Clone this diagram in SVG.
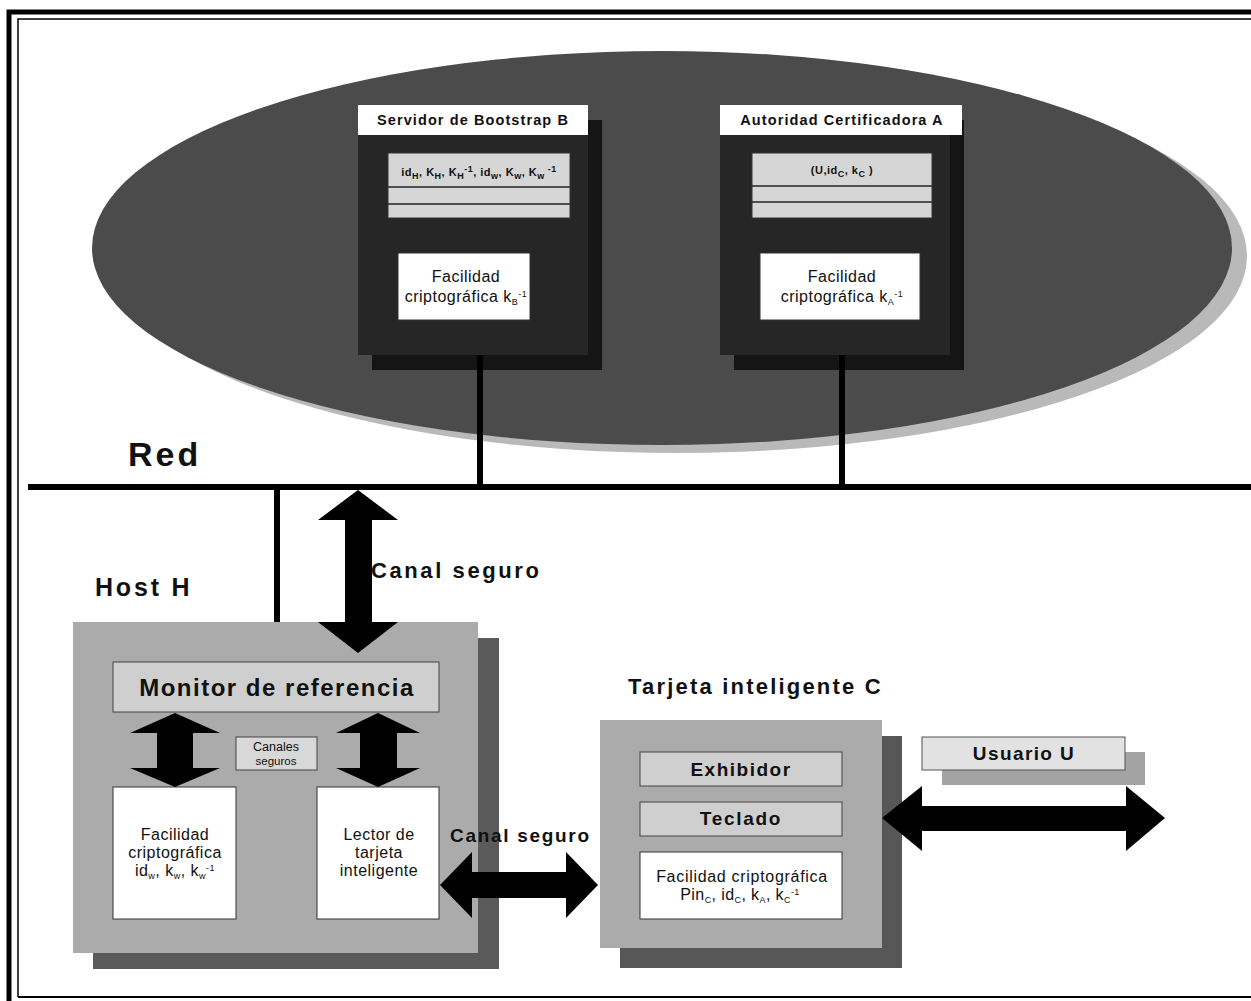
<svg xmlns="http://www.w3.org/2000/svg" width="1251" height="1001" viewBox="0 0 1251 1001">
  <style>
    text { font-family: "Liberation Sans", Arial, sans-serif; fill: #111; }
    .b { font-weight: bold; }
    .title { font-size: 14.5px; font-weight: bold; letter-spacing: 1.1px; text-anchor: middle; }
    .keys { font-size: 11px; font-weight: bold; text-anchor: middle; letter-spacing: 0.5px; }
    .fac { font-size: 16px; text-anchor: middle; letter-spacing: 0.5px; }
    .sub { font-size: 9px; }
    .lbl { font-weight: bold; }
    .panel { fill: #d6d6d6; stroke: #333; stroke-width: 1; }
    .white { fill: #ffffff; stroke: #333; stroke-width: 1; }
    .bar { fill: #cfcfcf; stroke: #444; stroke-width: 1; }
    .wire { stroke: #000; stroke-width: 6; }
    .dbl { fill: #000; }
  </style>

  <!-- page frame -->
  <g id="frame" fill="none" stroke="#000">
    <path d="M9 1001 V12 H1251" stroke-width="5"/>
    <path d="M18 997 V19 H1251" stroke-width="1.5"/>
    <path d="M18 997 H1251" stroke-width="2"/>
  </g>

  <!-- network cloud -->
  <g id="network">
    <ellipse cx="677" cy="256" rx="570" ry="197" fill="#b9b9b9"/>
    <ellipse cx="662" cy="248" rx="570" ry="197" fill="#4b4b4b"/>
    <text x="128" y="466" class="b" font-size="34" letter-spacing="3">Red</text>
  </g>

  <!-- bootstrap server -->
  <g id="server-b">
    <rect x="372" y="120" width="230" height="250" fill="#151515"/>
    <rect x="358" y="105" width="230" height="250" fill="#262626"/>
    <rect x="358" y="105" width="230" height="30" fill="#fff"/>
    <text x="473" y="125" class="title">Servidor de Bootstrap B</text>
    <rect x="388" y="153" width="182" height="65" class="panel"/>
    <line x1="388" y1="187" x2="570" y2="187" stroke="#222" stroke-width="1.5"/>
    <line x1="388" y1="204" x2="570" y2="204" stroke="#222" stroke-width="1.5"/>
    <text x="479" y="176" class="keys">id<tspan class="sub" dy="3">H</tspan><tspan dy="-3">, K</tspan><tspan class="sub" dy="3">H</tspan><tspan dy="-3">, K</tspan><tspan class="sub" dy="3">H</tspan><tspan class="sub" dy="-7">-1</tspan><tspan dy="4">, id</tspan><tspan class="sub" dy="3">w</tspan><tspan dy="-3">, K</tspan><tspan class="sub" dy="3">w</tspan><tspan dy="-3">, K</tspan><tspan class="sub" dy="3">w</tspan><tspan class="sub" dy="-7"> -1</tspan></text>
    <rect x="398" y="253" width="132" height="67" class="white"/>
    <text x="466" y="282" class="fac">Facilidad</text>
    <text x="466" y="302" class="fac">criptográfica k<tspan class="sub" dy="3">B</tspan><tspan class="sub" dy="-8">-1</tspan></text>
  </g>

  <!-- certification authority -->
  <g id="authority-a">
    <rect x="734" y="120" width="230" height="250" fill="#151515"/>
    <rect x="720" y="105" width="230" height="250" fill="#262626"/>
    <rect x="720" y="105" width="242" height="30" fill="#fff"/>
    <text x="842" y="125" class="title">Autoridad Certificadora A</text>
    <rect x="752" y="153" width="180" height="65" class="panel"/>
    <line x1="752" y1="186" x2="932" y2="186" stroke="#222" stroke-width="1.5"/>
    <line x1="752" y1="202" x2="932" y2="202" stroke="#222" stroke-width="1.5"/>
    <text x="842" y="174" class="keys">(U,id<tspan class="sub" dy="3">C</tspan><tspan dy="-3">, k</tspan><tspan class="sub" dy="3">C</tspan><tspan dy="-3"> )</tspan></text>
    <rect x="760" y="253" width="160" height="67" class="white"/>
    <text x="842" y="282" class="fac">Facilidad</text>
    <text x="842" y="302" class="fac">criptográfica k<tspan class="sub" dy="3">A</tspan><tspan class="sub" dy="-8">-1</tspan></text>
  </g>

  <!-- host -->
  <g id="host-h">
    <text x="95" y="596" class="lbl" font-size="25" letter-spacing="2.8">Host H</text>
    <rect x="93" y="638" width="406" height="331" fill="#5a5a5a"/>
    <rect x="73" y="622" width="405" height="331" fill="#ababab"/>
  </g>

  <g id="monitor">
    <rect x="113" y="662" width="326" height="50" class="bar"/>
    <text x="277" y="696" class="lbl" font-size="24" text-anchor="middle" letter-spacing="1.5">Monitor de referencia</text>
  </g>

  <g id="canales-seguros">
    <rect x="236" y="737" width="81" height="33" fill="#d8d8d8" stroke="#444" stroke-width="1"/>
    <text x="276" y="751" font-size="12.5" text-anchor="middle">Canales</text>
    <text x="276" y="765" font-size="11.5" text-anchor="middle">seguros</text>
  </g>

  <g id="crypto-w">
    <rect x="113" y="787" width="123" height="132" class="white"/>
    <text x="175" y="840" class="fac">Facilidad</text>
    <text x="175" y="858" class="fac">criptográfica</text>
    <text x="175" y="876" class="fac">id<tspan class="sub" dy="3">w</tspan><tspan dy="-3">, k</tspan><tspan class="sub" dy="3">w</tspan><tspan dy="-3">, k</tspan><tspan class="sub" dy="3">w</tspan><tspan class="sub" dy="-8">-1</tspan></text>
  </g>

  <g id="reader">
    <rect x="317" y="787" width="122" height="132" class="white"/>
    <text x="379" y="840" class="fac">Lector de</text>
    <text x="379" y="858" class="fac">tarjeta</text>
    <text x="379" y="876" class="fac">inteligente</text>
  </g>

  <!-- smart card -->
  <g id="card-c">
    <text x="628" y="694" class="lbl" font-size="22" letter-spacing="2.2">Tarjeta inteligente C</text>
    <rect x="620" y="736" width="282" height="232" fill="#575757"/>
    <rect x="600" y="720" width="282" height="228" fill="#ababab"/>
  </g>

  <g id="display">
    <rect x="640" y="752" width="202" height="34" class="bar"/>
    <text x="741" y="776" class="lbl" font-size="19" text-anchor="middle" letter-spacing="1.5">Exhibidor</text>
  </g>

  <g id="keypad">
    <rect x="640" y="802" width="202" height="34" class="bar"/>
    <text x="741" y="825" class="lbl" font-size="19" text-anchor="middle" letter-spacing="1.7">Teclado</text>
  </g>

  <g id="crypto-c">
    <rect x="640" y="852" width="202" height="67" class="white"/>
    <text x="742" y="882" font-size="16" text-anchor="middle" letter-spacing="0.7">Facilidad criptográfica</text>
    <text x="740" y="900" font-size="16" text-anchor="middle" letter-spacing="0.4">Pin<tspan class="sub" dy="3">C</tspan><tspan dy="-3">, id</tspan><tspan class="sub" dy="3">C</tspan><tspan dy="-3">, k</tspan><tspan class="sub" dy="3">A</tspan><tspan dy="-3">, k</tspan><tspan class="sub" dy="3">C</tspan><tspan class="sub" dy="-8">-1</tspan></text>
  </g>

  <!-- user -->
  <g id="user-u">
    <rect x="942" y="752" width="203" height="33" fill="#a3a3a3"/>
    <rect x="922" y="737" width="203" height="33" fill="#e2e2e2" stroke="#555" stroke-width="1"/>
    <text x="1024" y="760" class="lbl" font-size="19" text-anchor="middle" letter-spacing="1.4">Usuario U</text>
  </g>

  <!-- connectors: bus, drops and secure channels -->
  <g id="connectors">
    <line class="wire" x1="28" y1="487" x2="1251" y2="487"/>
    <line class="wire" x1="480" y1="355" x2="480" y2="487"/>
    <line class="wire" x1="842" y1="355" x2="842" y2="487"/>
    <line class="wire" x1="277" y1="487" x2="277" y2="622"/>
    <polygon class="dbl" points="358,490 398,520 372,520 372,622 398,622 358,653 318,622 345,622 345,520 318,520"/>
    <text x="371" y="578" class="lbl" font-size="22" letter-spacing="2.6">Canal seguro</text>
    <polygon class="dbl" points="175,713 220,733 193,733 193,768 220,768 175,787 130,768 157,768 157,733 130,733"/>
    <polygon class="dbl" points="378,713 420,733 397,733 397,768 420,768 378,787 336,768 360,768 360,733 336,733"/>
    <polygon class="dbl" points="440,885 472,852 472,872 566,872 566,852 598,885 566,918 566,898 472,898 472,918"/>
    <text x="450" y="842" class="lbl" font-size="19" letter-spacing="1.7">Canal seguro</text>
    <polygon class="dbl" points="882,818 922,786 922,806 1126,806 1126,786 1165,818 1126,851 1126,831 922,831 922,851"/>
  </g>
</svg>
